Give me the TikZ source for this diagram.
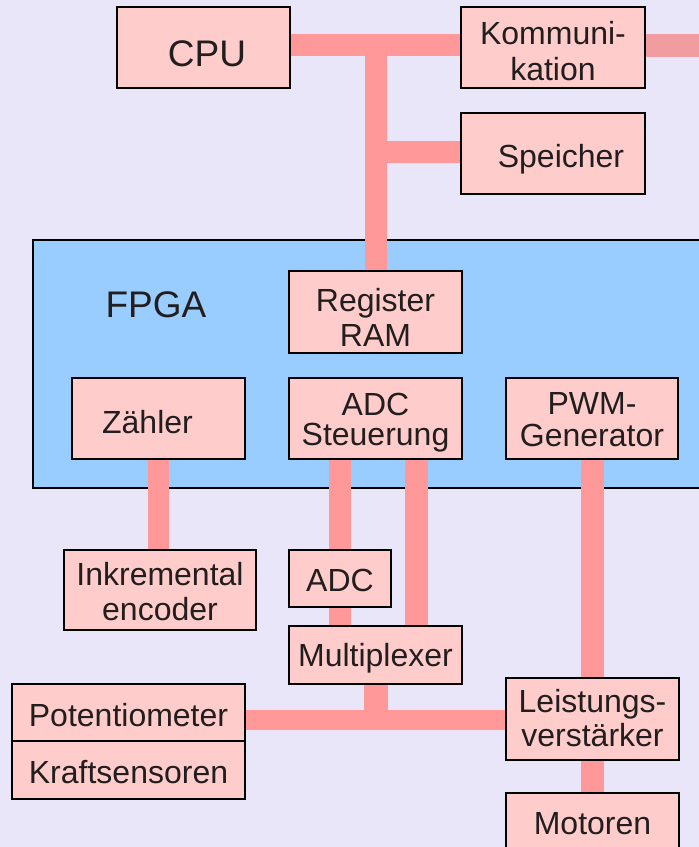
\documentclass[tikz,border=0pt]{standalone}
\usepackage{fontspec}
\setmainfont{Liberation Sans}
\usetikzlibrary{calc}
\pgfdeclarelayer{back}
\pgfdeclarelayer{wires}
\pgfsetlayers{back,wires,main}
\definecolor{pagebg}{RGB}{232,230,248}
\definecolor{boxfill}{RGB}{255,204,204}
\definecolor{busline}{RGB}{255,153,153}
\definecolor{extline}{RGB}{240,156,160}
\definecolor{fpgafill}{RGB}{153,204,255}
\definecolor{ink}{RGB}{34,30,30}
% one line of box text, its baseline #1 below the box centre
\newcommand\boxline[2]{\raisebox{-#1}[0pt][0pt]{#2}}
% two lines of box text: last baseline #1 below the centre, line distance #2
\newcommand\boxlines[4]{\raisebox{-#1}[0pt][0pt]{\vbox{\baselineskip=#2\lineskiplimit=-100pt
  \halign{\hfil##\hfil\cr#3\cr#4\cr}}}}
\tikzset{
  unit/.style={draw=black, line width=2pt, fill=boxfill, text=ink,
    inner sep=0pt, font=\fontsize{32}{36}\selectfont},
  bigtext/.style={text=ink, font=\fontsize{37}{42}\selectfont},
  bus/.style={line width=22pt, draw=busline},
}
\begin{document}
\begin{tikzpicture}[x=1pt, y=-1pt]
  \useasboundingbox (0,0) rectangle (699,847);

  % page and FPGA carrier
  \begin{pgfonlayer}{back}
    \fill[pagebg] (0,0) rectangle (699,847);
    \node[draw=black, line width=2pt, fill=fpgafill, minimum width=687pt, minimum height=248pt, inner sep=0pt]
      (fpga) at (376.5,364) {};
  \end{pgfonlayer}
  \node[bigtext] (fpgalabel) at (156,305) {FPGA};

  % host side
  \node[unit, minimum width=173pt, minimum height=81pt, font=\fontsize{37}{42}\selectfont] (cpu) at (203.5,47.5) {\boxline{18.5pt}{\hspace{7pt}CPU}};
  \node[unit, minimum width=184pt, minimum height=81pt] (komm) at (553,47.5) {\boxlines{32.5pt}{35.7pt}{Kommuni-}{kation}};
  \node[unit, minimum width=184pt, minimum height=81pt] (spe) at (553,153.5) {\boxline{13.5pt}{\hspace{16pt}Speicher}};

  % inside the FPGA
  \node[unit, minimum width=173pt, minimum height=82pt] (reg) at (375.5,312) {\boxlines{34pt}{34.3pt}{Register}{RAM}};
  \node[unit, minimum width=173pt, minimum height=81pt] (zaehler) at (158.5,418.5) {\boxline{14.8pt}{Zähler\hspace{22pt}}};
  \node[unit, minimum width=173pt, minimum height=81pt] (adcst) at (375.5,418.5) {\boxlines{26.5pt}{30pt}{ADC}{Steuerung}};
  \node[unit, minimum width=172pt, minimum height=81pt] (pwm) at (592,418.5) {\boxlines{27.5pt}{31.7pt}{PWM-}{Generator}};

  % peripherals
  \node[unit, minimum width=192pt, minimum height=80pt] (inkr) at (160,590) {\boxlines{30pt}{35pt}{Inkremental}{encoder}};
  \node[unit, minimum width=102pt, minimum height=57pt] (adc) at (340,578.5) {\boxline{13.2pt}{ADC}};
  \node[unit, minimum width=173pt, minimum height=58pt] (mux) at (375.5,655) {\boxline{11.7pt}{Multiplexer}};
  \node[unit, minimum width=233pt, minimum height=57pt] (pot) at (128.5,712.5) {\boxline{14.2pt}{Potentiometer}};
  \node[unit, minimum width=233pt, minimum height=58pt] (kraft) at (128.5,770) {\boxline{13.3pt}{Kraftsensoren}};
  \node[unit, minimum width=173pt, minimum height=82pt] (lv) at (592.5,719) {\boxlines{27pt}{33.3pt}{Leistungs-}{verstärker}};
  \node[unit, minimum width=173pt, minimum height=82pt] (mot) at (592.5,834.3) {\boxline{0pt}{Motoren}};

  % junction points of the buses
  \coordinate (jtop) at (376,45);
  \coordinate (jspe) at (376,152);
  \coordinate (kend) at (720,45.5);
  \coordinate (jright) at (416.5,0);
  \coordinate (jmux) at (375.5,719.5);

  \begin{pgfonlayer}{wires}
    \draw[bus] (cpu.east |- jtop) -- (komm.west |- jtop);
    \draw[bus, draw=extline, line width=23pt] (komm.east |- kend) -- (kend);
    \draw[bus] (jtop) -- (jtop |- reg.north);
    \draw[bus] (jspe) -- (spe.west |- jspe);
    \draw[bus, line width=21pt] (zaehler.south) -- (zaehler.south |- inkr.north);
    \draw[bus] (adc.north |- adcst.south) -- (adc.north);
    \draw[bus] (adc.south) -- (adc.south |- mux.north);
    \draw[bus, line width=23pt] (jright |- adcst.south) -- (jright |- mux.north);
    \draw[bus, line width=23pt] (pwm.south) -- (pwm.south |- lv.north);
    \draw[bus, line width=23pt] (lv.south) -- (lv.south |- mot.north);
    \draw[bus, line width=24pt] (mux.south) -- (mux.south |- jmux);
    \draw[bus, line width=20pt] (pot.east |- jmux) -- (lv.west |- jmux);
  \end{pgfonlayer}
\end{tikzpicture}
\end{document}
